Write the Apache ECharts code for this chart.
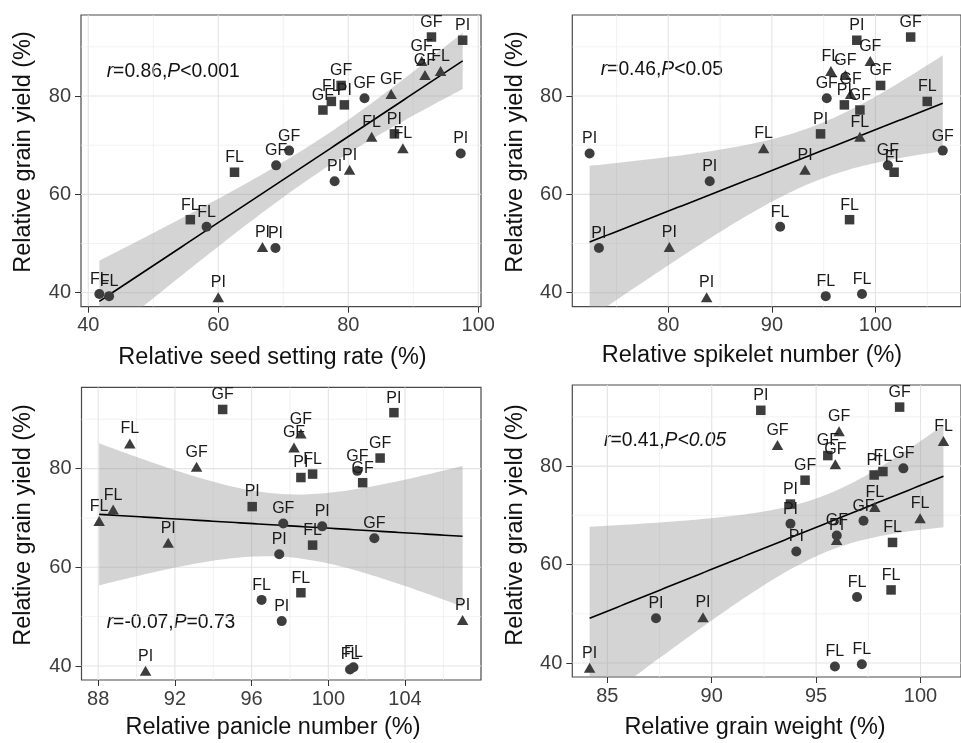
<!DOCTYPE html>
<html>
<head>
<meta charset="utf-8">
<script src="https://cdn.jsdelivr.net/npm/echarts@6/dist/echarts.min.js"></script>
<style>html,body{margin:0;padding:0;background:#fff}#c{width:961px;height:743px}</style>
</head>
<body>
<div id="c"></div>
<script>
// ---------------- data ----------------
const stage = ['PI','PI','PI','PI','PI','PI','PI','PI','PI',
               'FL','FL','FL','FL','FL','FL','FL','FL','FL',
               'GF','GF','GF','GF','GF','GF','GF','GF','GF'];
const shape = ['circle','circle','circle','triangle','triangle','triangle','rect','rect','rect',
               'circle','circle','circle','rect','rect','rect','triangle','triangle','triangle',
               'circle','circle','circle','rect','rect','rect','triangle','triangle','triangle'];
const grainYield = [68.3, 62.65, 49.1, 65.0, 49.3, 39.05, 91.35, 78.2, 72.3,
                    53.4, 39.75, 39.3, 78.9, 64.5, 54.85, 85.1, 71.7, 69.4,
                    79.55, 68.9, 65.9, 92.0, 82.15, 77.15, 87.1, 84.3, 80.4];
const seedSettingRate = [97.3, 77.9, 68.8, 80.2, 66.8, 60.0, 97.6, 79.4, 87.1,
                         58.2, 41.7, 43.2, 77.4, 62.5, 55.7, 94.2, 83.6, 88.4,
                         82.5, 70.9, 68.9, 92.8, 78.9, 76.1, 91.3, 91.8, 86.6];
const spikeletNumber = [72.4, 84.0, 73.3, 93.2, 80.1, 83.7, 98.2, 97.0, 94.7,
                        90.8, 98.7, 95.2, 105.0, 101.8, 97.5, 95.7, 98.5, 89.2,
                        95.3, 106.5, 101.2, 103.4, 100.5, 98.5, 99.5, 97.1, 97.6];
const panicleNumber = [99.68, 97.44, 97.57, 91.65, 107.0, 90.47, 103.42, 98.57, 96.03,
                       96.52, 101.31, 101.13, 99.18, 99.18, 98.57, 89.65, 88.78, 88.05,
                       101.51, 97.65, 102.40, 94.49, 102.70, 101.79, 98.57, 98.21, 93.13];
const grainWeight = [93.77, 94.05, 87.33, 95.98, 89.58, 84.15, 92.35, 97.78, 93.77,
                     96.96, 97.19, 95.9, 98.2, 98.66, 98.59, 101.1, 97.81, 99.98,
                     99.18, 97.27, 95.99, 99.0, 95.56, 94.47, 96.10, 93.15, 95.92];

const yTicks = [40, 60, 80];
const yMinor = [50, 70, 90];
const xTicksSeed = [40, 60, 80, 100];      const xMinorSeed = [50, 70, 90];
const xTicksSpike = [80, 90, 100];         const xMinorSpike = [75, 85, 95, 105];
const xTicksPanicle = [88, 92, 96, 100, 104]; const xMinorPanicle = [90, 94, 98, 102, 106];
const xTicksWeight = [85, 90, 95, 100];    const xMinorWeight = [87.5, 92.5, 97.5];

const xTitles = ['Relative seed setting rate (%)', 'Relative spikelet number (%)',
                 'Relative panicle number (%)', 'Relative grain weight (%)'];
const yTitle = 'Relative grain yield (%)';
const notes = ['{i|r}=0.86,{i|P}<0.001', '{i|r}=0.46,{i|P}<0.05',
               '{i|r}=-0.07,{i|P}=0.73', '{i|r}=0.41,{i|P<0.05}'];

// ---------------- layout / style ----------------
const FONT = '"Liberation Sans", Arial, Helvetica, sans-serif';
const panels = [
  {x: seedSettingRate, xt: xTicksSeed, xm: xMinorSeed, xMin: 38.88, xMax: 100.42, yMin: 37.15, yMax: 96.48,
   grid: {left: 81, top: 15, width: 400, height: 291.7}, xTitlePos: [272.5, 358], yTitlePos: [24, 152], notePos: [106.7, 71.7]},
  {x: spikeletNumber, xt: xTicksSpike, xm: xMinorSpike, xMin: 70.73, xMax: 108.26, yMin: 37.15, yMax: 96.48,
   grid: {left: 572.3, top: 15, width: 400, height: 291.7}, xTitlePos: [752, 356], yTitlePos: [516, 152], notePos: [600.7, 70]},
  {x: panicleNumber, xt: xTicksPanicle, xm: xMinorPanicle, xMin: 87.13, xMax: 107.96, yMin: 37.16, yMax: 96.49,
   grid: {left: 81.5, top: 387.3, width: 399.5, height: 292.7}, xTitlePos: [273, 728], yTitlePos: [24, 525], notePos: [106.7, 622.3]},
  {x: grainWeight, xt: xTicksWeight, xm: xMinorWeight, xMin: 83.32, xMax: 101.94, yMin: 37.16, yMax: 96.49,
   grid: {left: 572.3, top: 385, width: 400, height: 292}, xTitlePos: [755, 728], yTitlePos: [516, 525], notePos: [604, 441]}
];

function fitLm(xs, ys) {
  const n = xs.length;
  const mx = xs.reduce((a, b) => a + b, 0) / n;
  const my = ys.reduce((a, b) => a + b, 0) / n;
  let sxx = 0, sxy = 0;
  for (let i = 0; i < n; i++) { sxx += (xs[i] - mx) ** 2; sxy += (xs[i] - mx) * (ys[i] - my); }
  const b = sxy / sxx, a = my - b * mx;
  let sse = 0;
  for (let i = 0; i < n; i++) sse += (ys[i] - a - b * xs[i]) ** 2;
  const s = Math.sqrt(sse / (n - 2));
  const t = 2.0595; // qt(0.975, 25)
  const lo = Math.min(...xs), hi = Math.max(...xs);
  const bx = [], bl = [], bh = [], line = [];
  for (let k = 0; k <= 80; k++) {
    const x = lo + (hi - lo) * k / 80;
    const yh = a + b * x;
    const se = s * Math.sqrt(1 / n + (x - mx) ** 2 / sxx);
    bx.push(x); bl.push(yh - t * se); bh.push(yh + t * se); line.push([x, yh]);
  }
  return {bx, bl, bh, line};
}

const grids = [], xAxes = [], yAxes = [], series = [], graphics = [];
const symSize = {circle: 10, rect: 9.5, triangle: [11.5, 10]};
const labelDist = {circle: 1.5, rect: 1.8, triangle: 1.5};

panels.forEach((p, gi) => {
  grids.push(Object.assign({show: true, borderColor: '#4a4a4a', borderWidth: 1.2, backgroundColor: 'transparent'}, p.grid));
  xAxes.push({
    type: 'value', gridIndex: gi, min: p.xMin, max: p.xMax,
    axisLine: {show: false},
    axisTick: {show: true, customValues: p.xt, length: 6, lineStyle: {color: '#333', width: 1}},
    axisLabel: {show: true, customValues: p.xt, margin: 9, fontSize: 20, color: '#3d3d3d', fontFamily: FONT},
    splitLine: {show: false}
  });
  yAxes.push({
    type: 'value', gridIndex: gi, min: p.yMin, max: p.yMax,
    axisLine: {show: false},
    axisTick: {show: true, customValues: yTicks, length: 6, lineStyle: {color: '#333', width: 1}},
    axisLabel: {show: true, customValues: yTicks, margin: 10, fontSize: 20, color: '#3d3d3d', fontFamily: FONT},
    splitLine: {show: false}
  });
  const glData = [];
  p.xt.forEach(v => glData.push([v, 0]));
  p.xm.forEach(v => glData.push([v, 1]));
  yTicks.forEach(v => glData.push([v, 2]));
  yMinor.forEach(v => glData.push([v, 3]));
  series.push({
    type: 'custom', xAxisIndex: gi, yAxisIndex: gi, z: 0, silent: true, clip: true,
    data: glData,
    renderItem: (params, api) => {
      const v = api.value(0), k = api.value(1);
      const cs = params.coordSys;
      let x1, y1, x2, y2;
      if (k < 2) {
        const c = api.coord([v, (p.yMin + p.yMax) / 2]);
        x1 = x2 = c[0]; y1 = cs.y; y2 = cs.y + cs.height;
      } else {
        const c = api.coord([(p.xMin + p.xMax) / 2, v]);
        y1 = y2 = c[1]; x1 = cs.x; x2 = cs.x + cs.width;
      }
      const major = (k === 0 || k === 2);
      return {type: 'line', shape: {x1, y1, x2, y2},
              style: {stroke: major ? '#e3e3e3' : '#ececec', lineWidth: major ? 1.1 : 0.7}};
    }
  });
  const fit = fitLm(p.x, grainYield);
  series.push({
    type: 'custom', xAxisIndex: gi, yAxisIndex: gi, z: 1, silent: true, clip: true,
    data: [[fit.bx[0], fit.bh[0]]],
    renderItem: (params, api) => {
      const up = fit.bx.map((x, i) => api.coord([x, fit.bh[i]]));
      const lo = fit.bx.map((x, i) => api.coord([x, fit.bl[i]])).reverse();
      return {type: 'polygon', shape: {points: up.concat(lo)}, style: {fill: 'rgba(153,153,153,0.42)'}};
    }
  });
  series.push({
    type: 'line', xAxisIndex: gi, yAxisIndex: gi, z: 2, silent: true, clip: true,
    data: fit.line, showSymbol: false, symbol: 'none',
    lineStyle: {color: '#000', width: 1.6}
  });
  series.push({
    type: 'scatter', xAxisIndex: gi, yAxisIndex: gi, z: 3, clip: true,
    data: p.x.map((x, i) => ({
      value: [x, grainYield[i]], symbol: shape[i], symbolSize: symSize[shape[i]],
      label: {distance: labelDist[shape[i]]}
    })),
    itemStyle: {color: '#3d3d3d', opacity: 1},
    label: {show: true, position: 'top', fontSize: 16, color: '#1a1a1a', fontFamily: FONT,
            formatter: (d) => stage[d.dataIndex]},
    labelLayout: {hideOverlap: false}
  });
  graphics.push({
    type: 'text', x: p.xTitlePos[0], y: p.xTitlePos[1], silent: true,
    style: {text: xTitles[gi], x: 0, y: 0, fontSize: 23.5, fontFamily: FONT, fill: '#111',
            align: 'center', verticalAlign: 'middle', textAlign: 'center', textVerticalAlign: 'middle'}
  });
  graphics.push({
    type: 'text', x: p.yTitlePos[0], y: p.yTitlePos[1], rotation: Math.PI / 2, silent: true,
    style: {text: yTitle, x: 0, y: 0, fontSize: 23.5, fontFamily: FONT, fill: '#111',
            align: 'center', verticalAlign: 'middle', textAlign: 'center', textVerticalAlign: 'middle'}
  });
  graphics.push({
    type: 'text', x: p.notePos[0], y: p.notePos[1], silent: true,
    style: {text: notes[gi], x: 0, y: 0, fontSize: 19.3, fontFamily: FONT, fill: '#111',
            align: 'left', verticalAlign: 'middle', textAlign: 'left', textVerticalAlign: 'middle',
            rich: {i: {fontStyle: 'italic', fontSize: 19.3, fontFamily: FONT, fill: '#111'}}}
  });
});

const chart = echarts.init(document.getElementById('c'), null, {renderer: 'canvas'});
chart.setOption({
  animation: false,
  backgroundColor: '#fff',
  grid: grids, xAxis: xAxes, yAxis: yAxes, series: series, graphic: graphics
});
</script>
</body>
</html>
